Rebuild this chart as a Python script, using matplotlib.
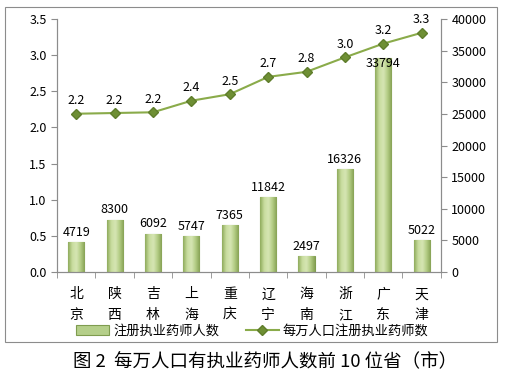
import matplotlib
matplotlib.use("Agg")
import matplotlib.pyplot as plt
import numpy as np
from matplotlib.patches import Rectangle
from matplotlib.colors import LinearSegmentedColormap

plt.rcParams['font.family'] = ['Noto Sans CJK SC', 'DejaVu Sans']

provinces = ["北京", "陕西", "吉林", "上海", "重庆", "辽宁", "海南", "浙江", "广东", "天津"]
pharmacists = [4719, 8300, 6092, 5747, 7365, 11842, 2497, 16326, 33794, 5022]
per_10k = [2.19, 2.20, 2.21, 2.37, 2.46, 2.70, 2.77, 2.97, 3.16, 3.31]
per_10k_labels = ["2.2", "2.2", "2.2", "2.4", "2.5", "2.7", "2.8", "3.0", "3.2", "3.3"]

fig = plt.figure(figsize=(5.05, 3.81), dpi=100)
# outer chart frame
fig.patches.append(Rectangle((5 / 505, 1 - 342 / 381), 492 / 505, 335 / 381,
                             transform=fig.transFigure, fill=False,
                             edgecolor="#8c8c8c", linewidth=0.8))

ax = fig.add_axes([0.113, 0.286, 0.76, 0.664])
ax2 = ax.twinx()

x = np.arange(len(provinces))
bars = ax2.bar(x, pharmacists, width=0.42, color="#b5cf8a", edgecolor="#7f9c4f",
               linewidth=0.8, label="注册执业药师人数", zorder=2)

# cylinder-like shading on the bars
cyl = LinearSegmentedColormap.from_list("cyl", ["#8fab5c", "#c9dd9f", "#d6e6b4", "#b3cc84", "#86a254"])
grad = np.linspace(0, 1, 64).reshape(1, -1)
for b in bars:
    x0, w, h = b.get_x(), b.get_width(), b.get_height()
    im = ax2.imshow(grad, cmap=cyl, aspect="auto", extent=(x0, x0 + w, 0, h),
                    zorder=2.5, interpolation="bicubic")
    im.set_clip_path(b)
ax2.set_xlim(-0.5, len(provinces) - 0.5)

top_idx = int(np.argmax(pharmacists))
for i, (xi, v) in enumerate(zip(x, pharmacists)):
    if i == top_idx:
        # the tallest bar's label sits just under the line marker
        ax2.text(xi, v - 900, str(v), ha="center", va="center", fontsize=9, zorder=6)
    else:
        ax2.text(xi, v + 500, str(v), ha="center", va="bottom", fontsize=9)

ax.plot(x, per_10k, color="#8aab4a", linewidth=1.5, marker="D", markersize=5.5,
        markerfacecolor="#6e8f34", markeredgecolor="#5f7d2b",
        label="每万人口注册执业药师数", zorder=5)
for xi, v, lab in zip(x, per_10k, per_10k_labels):
    ax.text(xi, v + 0.09, lab, ha="center", va="bottom", fontsize=9)

ax.set_zorder(ax2.get_zorder() + 1)
ax.patch.set_visible(False)

ax.set_ylim(0, 3.5)
ax.set_yticks(np.arange(0, 3.51, 0.5))
ax.set_yticklabels([f"{t:.1f}" for t in np.arange(0, 3.51, 0.5)], fontsize=9)
ax2.set_ylim(0, 40000)
ax2.set_yticks(np.arange(0, 40001, 5000))
ax2.set_yticklabels([str(t) for t in range(0, 40001, 5000)], fontsize=9)

ax.set_xlim(-0.5, len(provinces) - 0.5)
ax.set_xticks(x)
ax.set_xticklabels(["\n".join(p) for p in provinces], fontsize=10, linespacing=1.6)
ax.tick_params(axis="x", length=0, pad=11)
ax.set_xticks(np.arange(-0.5, len(provinces), 1), minor=True)
ax.tick_params(axis="x", which="minor", length=4, color="#8c8c8c")
ax.tick_params(axis="y", length=4, color="#8c8c8c", direction="out")
ax2.tick_params(axis="y", length=4, color="#8c8c8c", direction="out")

for a in (ax, ax2):
    a.spines["top"].set_visible(False)
    for s in ("left", "right", "bottom"):
        a.spines[s].set_color("#8c8c8c")

h1, l1 = ax2.get_legend_handles_labels()
h2, l2 = ax.get_legend_handles_labels()
fig.legend(h1 + h2, l1 + l2, loc="center", bbox_to_anchor=(0.5, 1 - 331 / 381),
           ncol=2, frameon=False, fontsize=9.5, handlelength=2.5,
           columnspacing=2.0, handletextpad=0.3)

fig.text(265 / 505, 1 - 362 / 381, "图 2  每万人口有执业药师人数前 10 位省（市）",
         ha="center", va="center", fontsize=13.3)

fig.savefig("out.png", dpi=100)
